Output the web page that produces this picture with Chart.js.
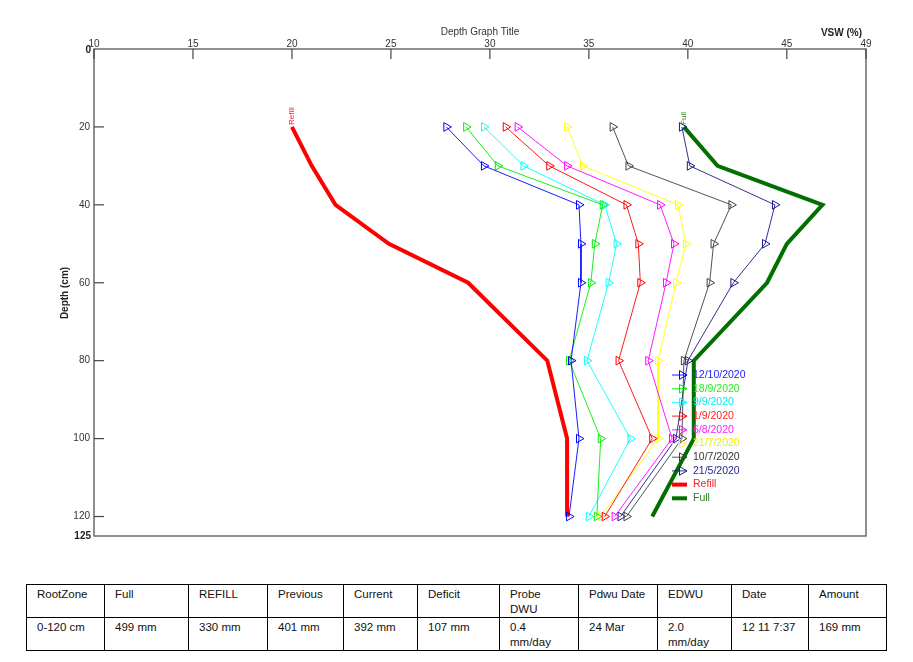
<!DOCTYPE html>
<html>
<head>
<meta charset="utf-8">
<script src="https://cdn.jsdelivr.net/npm/chart.js@4/dist/chart.umd.min.js"></script>
<style>
  body { margin: 0; background: #fff; }
  #wrap { position: absolute; left: 0; top: 0; width: 913px; height: 545px; }
  table { position: absolute; left: 26px; top: 584px; border-collapse: collapse; font-family: "Liberation Sans", Arial, sans-serif; font-size: 11.5px; color: #111; }
  td { border: 1px solid #000; vertical-align: top; padding: 2px 0 0 10px; line-height: 15px; box-sizing: border-box; }
  tr.h td { height: 33px; }
  tr.v td { height: 32px; }
</style>
</head>
<body>
<div id="wrap"><canvas id="depthChart" width="913" height="545"></canvas></div>
<table>
  <tr class="h">
    <td style="width:78px">RootZone</td><td style="width:84px">Full</td><td style="width:79px">REFILL</td><td style="width:76px">Previous</td><td style="width:74px">Current</td><td style="width:82px">Deficit</td><td style="width:79px">Probe<br>DWU</td><td style="width:79px">Pdwu Date</td><td style="width:74px">EDWU</td><td style="width:77px">Date</td><td style="width:78px">Amount</td>
  </tr>
  <tr class="v">
    <td>0-120 cm</td><td>499 mm</td><td>330 mm</td><td>401 mm</td><td>392 mm</td><td>107 mm</td><td>0.4<br>mm/day</td><td>24 Mar</td><td>2.0<br>mm/day</td><td>12 11 7:37</td><td>169 mm</td>
  </tr>
</table>
<script>
// Data: depth (cm) en VSW (%) per meetdatum
const depths = [20, 30, 40, 50, 60, 80, 100, 120];
const seriesLabels = ['12/10/2020', '18/9/2020', '9/9/2020', '1/9/2020', '6/8/2020', '21/7/2020', '10/7/2020', '21/5/2020'];
const vsw_12_10 = [27.8, 29.7, 34.5, 34.6, 34.6, 34.1, 34.5, 34.0];
const vsw_18_9 = [28.8, 30.4, 35.7, 35.3, 35.1, 34.0, 35.6, 35.4];
const vsw_9_9 = [29.7, 31.7, 35.8, 36.4, 36.0, 34.9, 37.1, 35.0];
const vsw_1_9 = [30.8, 33.0, 36.9, 37.5, 37.6, 36.5, 38.2, 35.8];
const vsw_6_8 = [31.4, 33.9, 38.6, 39.3, 38.9, 38.0, 39.2, 36.3];
const vsw_21_7 = [33.9, 34.7, 39.5, 39.9, 39.4, 38.5, 38.5, 35.6];
const vsw_10_7 = [36.2, 37.0, 42.2, 41.3, 41.1, 39.8, 39.7, 36.9];
const vsw_21_5 = [39.7, 40.1, 44.4, 43.9, 42.3, 40.0, 39.4, 36.6];
const refill = [20.0, 21.0, 22.2, 24.9, 28.9, 32.9, 33.9, 33.9];
const full = [39.8, 41.5, 46.8, 45.0, 44.0, 40.3, 40.3, 38.2];
const xTicks = [10, 15, 20, 25, 30, 35, 40, 45, 49];
const yTicks = [20, 40, 60, 80, 100, 120];

const seriesValues = [vsw_12_10, vsw_18_9, vsw_9_9, vsw_1_9, vsw_6_8, vsw_21_7, vsw_10_7, vsw_21_5];
const seriesColors = ['#0000ff', '#00ee00', '#00ffff', '#ff0000', '#ff00ff', '#ffff00', '#404040', '#1a1a80'];
const textColors = ['#2020ff', '#22ee22', '#00eeee', '#ff2020', '#ff20ff', '#eeee00', '#333333', '#2a2a8a'];

const toPoints = vals => vals.map((v, i) => ({ x: v, y: depths[i] }));

const datasets = seriesValues.map((vals, i) => ({
    label: seriesLabels[i],
    data: toPoints(vals),
    borderColor: seriesColors[i],
    borderWidth: 0.9,
    showLine: true,
    pointStyle: 'triangle',
    rotation: 90,
    pointRadius: 5,
    pointBorderWidth: 1,
    pointBorderColor: seriesColors[i],
    pointBackgroundColor: 'rgba(0,0,0,0)',
    clip: false
}));
datasets.push({ label: 'Refill', data: toPoints(refill), borderColor: '#ff0000', borderWidth: 4, showLine: true, pointRadius: 0, clip: false });
datasets.push({ label: 'Full', data: toPoints(full), borderColor: '#007000', borderWidth: 4, showLine: true, pointRadius: 0, clip: false });

const legendText = seriesLabels.concat(['Refill', 'Full']);
const legendTextColors = textColors.concat(['#ff2020', '#2f7a1f']);

// eigen assen, tickjes naar binnen, legenda in plotgebied
const decor = {
    id: 'decor',
    afterDraw(chart) {
        const ctx = chart.ctx;
        const a = chart.chartArea;
        const xs = chart.scales.x, ys = chart.scales.y;
        const font = '"Liberation Sans", Arial, sans-serif';
        ctx.save();
        // kader
        ctx.strokeStyle = '#6a6a6a';
        ctx.lineWidth = 1.5;
        ctx.strokeRect(a.left, a.top, a.right - a.left, a.bottom - a.top);
        // x ticks (boven)
        ctx.fillStyle = '#333';
        ctx.font = '10px ' + font;
        ctx.textAlign = 'center';
        ctx.textBaseline = 'alphabetic';
        ctx.strokeStyle = '#444';
        ctx.lineWidth = 1.2;
        xTicks.forEach(t => {
            const px = xs.getPixelForValue(t);
            ctx.beginPath(); ctx.moveTo(px, a.top); ctx.lineTo(px, a.top + 10); ctx.stroke();
            ctx.fillText(String(t), px, a.top - 2);
        });
        // y ticks (links)
        ctx.textAlign = 'right';
        ctx.textBaseline = 'middle';
        yTicks.forEach(t => {
            const py = ys.getPixelForValue(t);
            ctx.beginPath(); ctx.moveTo(a.left, py); ctx.lineTo(a.left + 10, py); ctx.stroke();
            ctx.fillText(String(t), a.left - 4, py);
        });
        ctx.font = 'bold 10px ' + font;
        ctx.fillStyle = '#222';
        ctx.fillText('0', a.left - 3, ys.getPixelForValue(0) + 1);
        ctx.fillText('125', a.left - 3, ys.getPixelForValue(125));
        // titels
        ctx.font = '10px ' + font;
        ctx.fillStyle = '#333';
        ctx.textAlign = 'center';
        ctx.textBaseline = 'alphabetic';
        ctx.fillText('Depth Graph Title', 480, 35);
        ctx.font = 'bold 10px ' + font;
        ctx.fillStyle = '#222';
        ctx.textAlign = 'right';
        ctx.fillText('VSW (%)', 862, 36);
        ctx.save();
        ctx.translate(65, 293);
        ctx.rotate(-Math.PI / 2);
        ctx.textAlign = 'center';
        ctx.textBaseline = 'middle';
        ctx.fillText('Depth (cm)', 0, 0);
        ctx.restore();
        // labels boven Refill / Full
        ctx.font = '8px ' + font;
        ctx.textAlign = 'left';
        ctx.textBaseline = 'middle';
        [[refill[0], '#ff2020', 'Refill'], [full[0], '#2f8a1f', 'Full']].forEach(([v, c, s]) => {
            ctx.save();
            ctx.translate(xs.getPixelForValue(v), ys.getPixelForValue(depths[0]) - 2);
            ctx.rotate(-Math.PI / 2);
            ctx.fillStyle = c;
            ctx.fillText(s, 0, 0);
            ctx.restore();
        });
        // legenda
        const lx = a.right - 194, ly0 = a.bottom - 161, step = 13.7;
        ctx.font = '10.5px ' + font;
        ctx.textBaseline = 'middle';
        legendText.forEach((s, i) => {
            const y = ly0 + i * step;
            const ds = datasets[i];
            ctx.strokeStyle = ds.borderColor;
            ctx.lineWidth = ds.borderWidth;
            ctx.beginPath(); ctx.moveTo(lx, y); ctx.lineTo(lx + 15, y); ctx.stroke();
            if (i < seriesLabels.length) {
                ctx.lineWidth = 1;
                const cx = lx + 10, r = 5;
                ctx.beginPath();
                ctx.moveTo(cx + r, y);
                ctx.lineTo(cx - r * 0.5, y - r * 0.87);
                ctx.lineTo(cx - r * 0.5, y + r * 0.87);
                ctx.closePath();
                ctx.stroke();
            }
            ctx.fillStyle = legendTextColors[i];
            ctx.textAlign = 'left';
            ctx.fillText(s, lx + 21, y);
        });
        ctx.restore();
    }
};

const depthChart = new Chart(document.getElementById('depthChart'), {
    type: 'scatter',
    data: { datasets: datasets },
    options: {
        responsive: false,
        animation: false,
        layout: { padding: { left: 94, top: 49, right: 47, bottom: 9 } },
        plugins: { legend: { display: false }, tooltip: { enabled: false } },
        scales: {
            x: { type: 'linear', min: 10, max: 49, display: false },
            y: { type: 'linear', min: 0, max: 125, reverse: true, display: false }
        }
    },
    plugins: [decor]
});
</script>
</body>
</html>
